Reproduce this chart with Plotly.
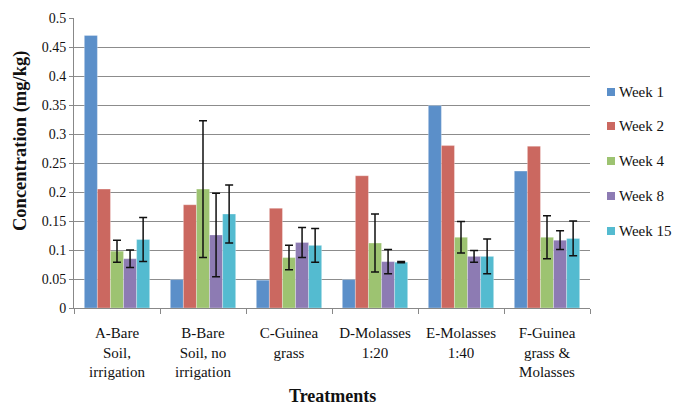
import plotly.graph_objects as go

categories = ["A-Bare<br>Soil,<br>irrigation", "B-Bare<br>Soil, no<br>irrigation", "C-Guinea<br>grass",
              "D-Molasses<br>1:20", "E-Molasses<br>1:40", "F-Guinea<br>grass &<br>Molasses"]
series_names = ["Week 1", "Week 2", "Week 4", "Week 8", "Week 15"]

week1 = [0.470, 0.049, 0.048, 0.049, 0.349, 0.236]
week2 = [0.205, 0.178, 0.172, 0.228, 0.280, 0.279]
week4 = [0.098, 0.205, 0.087, 0.112, 0.122, 0.122]
week8 = [0.085, 0.126, 0.113, 0.080, 0.089, 0.117]
week15 = [0.118, 0.162, 0.108, 0.079, 0.089, 0.120]

err4 = [0.019, 0.118, 0.021, 0.050, 0.027, 0.037]
err8 = [0.015, 0.072, 0.026, 0.021, 0.010, 0.016]
err15 = [0.038, 0.050, 0.029, 0.001, 0.030, 0.030]

values = [week1, week2, week4, week8, week15]
errors = [None, None, err4, err8, err15]
colors = ["#5B8FC9", "#CB6860", "#9DC371", "#8D7BB3", "#54BBD0"]

font_family = '"Liberation Serif", "Times New Roman", serif'
W, H = 673, 408
ml, mr, mt, mb = 74, 83, 18, 100
pw, ph = W - ml - mr, H - mt - mb

fig = go.Figure()
for i, (name, vals, err, col) in enumerate(zip(series_names, values, errors, colors)):
    kw = {}
    if err is not None:
        kw["error_y"] = dict(type="data", array=err, visible=True, color="#111111",
                             thickness=1.5, width=4)
    fig.add_trace(go.Bar(x=categories, y=vals, name=name, showlegend=False,
                         marker=dict(color=col, line=dict(color="rgba(255,255,255,0.6)", width=0.5)),
                         **kw))

# manual legend (placed in paper coordinates, to the right of the plot)
legend_x0 = 607
legend_rows = [92, 126, 161, 196, 231]
for name, col, yc in zip(series_names, colors, legend_rows):
    x0 = (legend_x0 - ml) / pw
    x1 = (legend_x0 + 8 - ml) / pw
    y0 = (H - mb - (yc + 4)) / ph
    y1 = (H - mb - (yc - 4)) / ph
    fig.add_shape(type="rect", xref="paper", yref="paper", x0=x0, x1=x1, y0=y0, y1=y1,
                  fillcolor=col, line=dict(width=0))
    fig.add_annotation(xref="paper", yref="paper", x=(legend_x0 + 10 - ml) / pw,
                       y=(H - mb - yc) / ph, text=name, showarrow=False,
                       xanchor="left", yanchor="middle",
                       font=dict(size=15, family=font_family, color="#111111"))

# axis titles
fig.add_annotation(xref="paper", yref="paper", x=(20 - ml) / pw, y=(H - mb - 141) / ph,
                   text="<b>Concentration (mg/kg)</b>", textangle=-90, showarrow=False,
                   xanchor="center", yanchor="middle",
                   font=dict(size=18.5, family=font_family, color="#111111"))
fig.add_annotation(xref="paper", yref="paper", x=0.5, y=(H - mb - 407) / ph,
                   text="<b>Treatments</b>", showarrow=False,
                   xanchor="center", yanchor="bottom", borderpad=0,
                   font=dict(size=18, family=font_family, color="#111111"))

fig.update_layout(
    width=W, height=H,
    margin=dict(l=ml, r=mr, t=mt, b=mb, autoexpand=False),
    paper_bgcolor="white", plot_bgcolor="white",
    barmode="group", bargap=0.24, bargroupgap=0,
    font=dict(family=font_family, size=14, color="#111111"),
    showlegend=False,
)
fig.update_xaxes(
    showline=True, linecolor="#888888", linewidth=1,
    ticks="outside", tickson="boundaries", ticklen=5, tickcolor="#888888",
    tickangle=0, ticklabelstandoff=11,
    tickfont=dict(size=15, family=font_family, color="#111111"),
)
fig.update_yaxes(
    range=[0, 0.5], dtick=0.05, tick0=0,
    showline=True, linecolor="#888888", linewidth=1,
    ticks="outside", ticklen=4, tickcolor="#888888",
    showgrid=True, gridcolor="#8C8C8C", gridwidth=1,
    zeroline=False,
    tickfont=dict(size=14, family=font_family, color="#111111"),
)

fig.write_html("out.html", post_script="document.body.style.margin='0';",
               config={"displayModeBar": False})
